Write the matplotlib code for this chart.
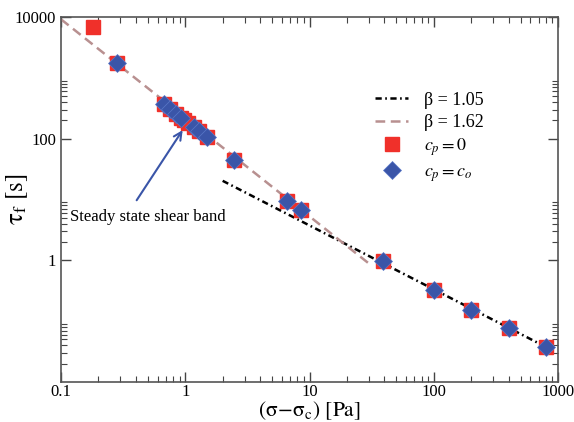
import numpy as np
import matplotlib
matplotlib.use("Agg")
import matplotlib.pyplot as plt
from matplotlib.ticker import FixedLocator, NullFormatter

plt.rcParams['font.family'] = ['Liberation Serif', 'DejaVu Serif']
plt.rcParams['mathtext.fontset'] = 'stix'
plt.rcParams['lines.scale_dashes'] = False

# failure time vs. excess stress, c_p = 0
sig_p0 = [0.18, 0.28, 0.68, 0.76, 0.84, 0.92, 0.98, 1.06, 1.18, 1.29, 1.5,
          2.48, 6.6, 8.6, 38.8, 100, 200, 400, 800]
tau_p0 = [6850, 1760, 372, 310, 258, 222, 200, 180, 155, 134, 107,
          45, 9.6, 6.6, 0.96, 0.32, 0.15, 0.078, 0.037]

# failure time vs. excess stress, c_p = c_o
sig_co = [0.28, 0.68, 0.76, 0.84, 0.92, 1.18, 1.29, 1.5,
          2.48, 6.6, 8.6, 38.8, 100, 200, 400, 800]
tau_co = [1760, 372, 310, 258, 222, 155, 134, 107,
          45, 9.6, 6.6, 0.96, 0.32, 0.15, 0.078, 0.037]

# power-law fits tau = A * sigma^-beta
beta_lo, amp_lo, rng_lo = 1.05, 42.0, (2.0, 800.0)
beta_hi, amp_hi, rng_hi = 1.62, 220.0, (0.1, 30.0)

fig = plt.figure(figsize=(5.74, 4.22), dpi=100)
ax = fig.add_axes([0.1063, 0.0948, 0.8658, 0.8649])

s = np.logspace(np.log10(rng_lo[0]), np.log10(rng_lo[1]), 100)
ax.plot(s, amp_lo * s ** -beta_lo, color='black', lw=1.8,
        dashes=(4.5, 2.5, 1.2, 2.5), label='β = 1.05')
s = np.logspace(np.log10(rng_hi[0]), np.log10(rng_hi[1]), 100)
ax.plot(s, amp_hi * s ** -beta_hi, color='#b89090', lw=1.8,
        dashes=(7, 4), label='β = 1.62')

ax.plot(sig_p0, tau_p0, ls='none', marker='s', ms=10, color='#f0302a',
        mec='#f0302a', label=r'$c_p = 0$')
ax.plot(sig_co, tau_co, ls='none', marker='D', ms=9, color='#3a55a8',
        mec='#5a78c8', mew=0.5, label=r'$c_p = c_o$')

ax.annotate('', xy=(0.98, 151), xytext=(0.395, 8.9),
            arrowprops=dict(arrowstyle='->', color='#3a55a8', lw=1.5,
                            mutation_scale=14))
ax.text(0.118, 5.07, 'Steady state shear band', fontsize=12, va='center')

ax.set_xscale('log')
ax.set_yscale('log')
ax.set_xlim(0.1, 1000)
ax.set_ylim(0.01, 10000)

ax.set_yticks([1, 100, 10000])
ax.set_yticklabels(['1', '100', '10000'])
ymin = [k * 10.0 ** n for n in (-2, 0, 2) for k in range(2, 10)]
ax.yaxis.set_minor_locator(FixedLocator(ymin))
ax.yaxis.set_minor_formatter(NullFormatter())
ax.set_xticks([0.1, 1, 10, 100, 1000])
ax.set_xticklabels(['0.1', '1', '10', '100', '1000'])

ax.tick_params(which='both', direction='in', top=True, right=True,
               labelsize=12, color='#444444')
ax.tick_params(axis='x', which='major', pad=1.5)
ax.tick_params(which='major', length=7, width=1)
ax.tick_params(which='minor', length=4, width=0.8)
for sp in ax.spines.values():
    sp.set_color('#555555')
    sp.set_linewidth(1.2)

# x label pinned to the bottom edge of the figure
fig.text(ax.get_position().x0 + ax.get_position().width / 2, 0.0,
         r'$\mathrm{(\sigma\!-\!\sigma_c)\ [Pa]}$', fontsize=15.5,
         ha='center', va='bottom')
ax.set_ylabel(r'$\mathrm{\tau_f\ [s]}$', fontsize=18)
ax.yaxis.set_label_coords(-0.062, 0.5)

ax.legend(loc='upper left', bbox_to_anchor=(0.6, 0.84), frameon=False,
          fontsize=13, handlelength=1.8, labelspacing=0.3, handletextpad=0.9)

fig.savefig('out.png', dpi=100)
